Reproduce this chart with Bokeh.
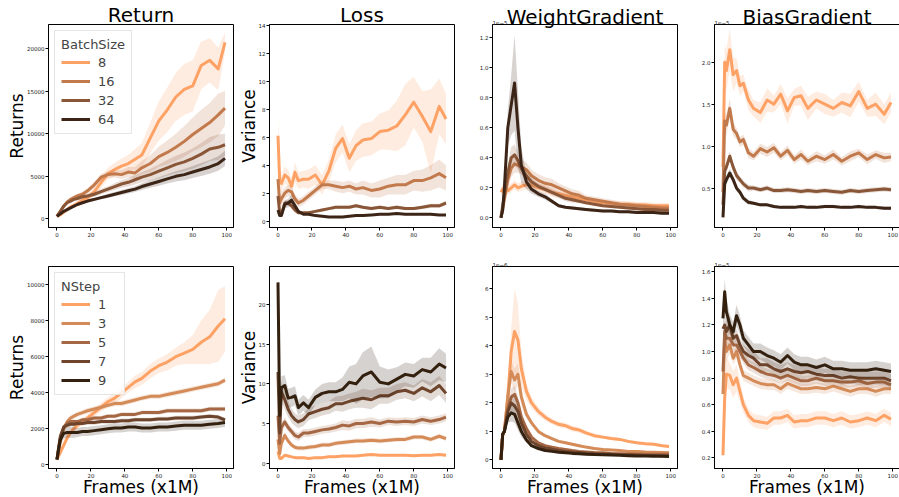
from bokeh.plotting import figure
from bokeh.layouts import column, row
from bokeh.models import Range1d, FixedTicker, PrintfTickFormatter, Title, Legend, LegendItem
from bokeh.embed import file_html
from bokeh.resources import INLINE

FONT = "DejaVu Sans"

# ---------------- data ----------------
frames = [0, 1, 2, 4, 6, 8, 10, 12, 15, 18, 22, 26, 30, 34, 38, 42, 46, 50, 55, 60, 65, 70, 75, 80, 85, 90, 95, 99]
x_ticks = [0, 20, 40, 60, 80, 100]

batch_labels = ["8", "16", "32", "64"]
nstep_labels = ["1", "3", "5", "7", "9"]
batch_colors = ["#fda165", "#c27a4c", "#8a5638", "#3c2517"]
nstep_colors = ["#fda165", "#d48b58", "#a66844", "#6e452c", "#33200f"]

# Return vs batch size
ret_b8 = [300, 400, 500, 800, 1100, 1400, 1600, 1800, 2200, 2500, 3200, 4300, 5300, 5800, 6200, 6500, 7000, 7500, 9500, 11500, 12800, 14300, 15200, 15600, 18000, 18600, 17600, 20700]
ret_b8_sd = [100, 100, 150, 200, 250, 300, 300, 350, 400, 450, 500, 600, 700, 800, 900, 1000, 1200, 1400, 1800, 2300, 2600, 2800, 3000, 3000, 2800, 2600, 2500, 1200]
ret_b16 = [300, 600, 900, 1500, 2000, 2300, 2500, 2700, 2900, 3300, 4000, 4900, 5200, 5300, 5200, 5500, 5400, 6000, 6500, 7300, 7800, 8400, 9100, 9900, 10600, 11300, 12200, 13000]
ret_b16_sd = [100, 100, 150, 200, 200, 250, 250, 250, 300, 300, 350, 400, 400, 450, 500, 600, 700, 800, 1000, 1200, 1400, 1600, 1800, 2000, 2200, 2300, 2500, 2000]
ret_b32 = [300, 600, 900, 1500, 1900, 2100, 2300, 2400, 2600, 2700, 2900, 3200, 3500, 3800, 4100, 4300, 4600, 4900, 5200, 5600, 6000, 6400, 6700, 7100, 7600, 8200, 8400, 8700]
ret_b32_sd = [100, 100, 150, 150, 150, 200, 200, 200, 250, 250, 300, 300, 350, 400, 450, 500, 550, 600, 700, 800, 900, 1000, 1100, 1200, 1300, 1400, 1500, 1300]
ret_b64 = [300, 450, 600, 900, 1100, 1300, 1500, 1700, 1900, 2100, 2300, 2500, 2700, 2900, 3100, 3300, 3500, 3800, 4100, 4400, 4700, 5000, 5200, 5500, 5800, 6100, 6500, 7100]
ret_b64_sd = [80, 80, 100, 100, 100, 120, 150, 150, 150, 200, 200, 200, 250, 250, 300, 300, 350, 400, 450, 500, 550, 600, 650, 700, 750, 800, 850, 900]

# Loss variance vs batch size
loss_b8 = [6.1, 2.9, 2.7, 3.3, 3.1, 2.5, 3.5, 2.9, 3.0, 3.0, 3.3, 2.6, 3.6, 5.2, 5.9, 4.5, 5.4, 5.8, 5.9, 6.4, 6.5, 6.8, 7.6, 8.5, 7.5, 6.4, 8.2, 7.3]
loss_b8_sd = [1.6, 0.8, 0.6, 0.6, 0.6, 0.6, 0.7, 0.6, 0.6, 0.7, 0.7, 0.7, 0.8, 1.0, 1.0, 1.0, 1.1, 1.2, 1.2, 1.3, 1.4, 1.8, 2.2, 1.8, 1.8, 3.0, 2.0, 1.8]
loss_b16 = [3.0, 1.3, 1.6, 2.0, 2.2, 2.1, 1.6, 1.3, 1.5, 1.8, 2.2, 2.6, 2.6, 2.5, 2.4, 2.5, 2.3, 2.4, 2.2, 2.3, 2.5, 2.6, 2.6, 2.9, 2.9, 3.1, 3.4, 3.1]
loss_b16_sd = [0.8, 0.5, 0.5, 0.4, 0.4, 0.4, 0.3, 0.3, 0.3, 0.3, 0.3, 0.3, 0.3, 0.4, 0.4, 0.4, 0.4, 0.5, 0.5, 0.6, 0.6, 0.7, 0.7, 0.7, 0.8, 0.9, 1.0, 0.9]
loss_b32 = [1.8, 0.6, 0.5, 1.3, 1.3, 1.1, 0.8, 0.6, 0.6, 0.6, 0.7, 0.8, 0.9, 1.0, 1.0, 1.0, 1.1, 1.0, 0.9, 1.0, 0.9, 1.0, 0.9, 0.9, 1.0, 1.1, 1.1, 1.3]
loss_b32_sd = [0.3, 0.2, 0.2, 0.2, 0.2, 0.2, 0.15, 0.1, 0.1, 0.1, 0.1, 0.1, 0.1, 0.12, 0.12, 0.12, 0.12, 0.12, 0.12, 0.12, 0.12, 0.12, 0.12, 0.12, 0.12, 0.15, 0.15, 0.15]
loss_b64 = [0.8, 0.4, 0.4, 1.2, 1.3, 1.5, 1.1, 0.7, 0.5, 0.5, 0.4, 0.35, 0.3, 0.3, 0.3, 0.35, 0.4, 0.4, 0.45, 0.5, 0.5, 0.55, 0.5, 0.5, 0.5, 0.5, 0.45, 0.45]
loss_b64_sd = [0.2, 0.1, 0.1, 0.3, 0.3, 0.4, 0.3, 0.1, 0.05, 0.05, 0.05, 0.05, 0.05, 0.05, 0.05, 0.05, 0.05, 0.05, 0.05, 0.05, 0.05, 0.05, 0.05, 0.05, 0.05, 0.05, 0.05, 0.05]

# Weight gradient variance vs batch size (x 1e-5)
wg_b8 = [0.17, 0.19, 0.2, 0.18, 0.2, 0.22, 0.2, 0.21, 0.22, 0.22, 0.2, 0.19, 0.17, 0.16, 0.15, 0.14, 0.13, 0.12, 0.11, 0.1, 0.095, 0.09, 0.09, 0.085, 0.085, 0.08, 0.08, 0.08]
wg_b8_sd = [0.03, 0.03, 0.03, 0.03, 0.03, 0.03, 0.03, 0.03, 0.03, 0.03, 0.03, 0.03, 0.03, 0.02, 0.02, 0.02, 0.02, 0.02, 0.02, 0.02, 0.02, 0.02, 0.02, 0.02, 0.02, 0.02, 0.02, 0.02]
wg_b16 = [0.0, 0.06, 0.12, 0.25, 0.33, 0.36, 0.35, 0.34, 0.32, 0.28, 0.25, 0.23, 0.22, 0.2, 0.18, 0.16, 0.15, 0.13, 0.12, 0.11, 0.1, 0.09, 0.085, 0.08, 0.075, 0.07, 0.065, 0.065]
wg_b16_sd = [0.01, 0.02, 0.03, 0.05, 0.06, 0.06, 0.05, 0.05, 0.05, 0.04, 0.04, 0.04, 0.04, 0.03, 0.03, 0.03, 0.03, 0.02, 0.02, 0.02, 0.02, 0.02, 0.02, 0.02, 0.02, 0.02, 0.02, 0.02]
wg_b32 = [0.0, 0.08, 0.15, 0.3, 0.4, 0.42, 0.38, 0.33, 0.28, 0.24, 0.21, 0.19, 0.17, 0.15, 0.13, 0.12, 0.11, 0.1, 0.09, 0.08, 0.075, 0.07, 0.065, 0.06, 0.055, 0.055, 0.05, 0.05]
wg_b32_sd = [0.01, 0.02, 0.03, 0.05, 0.07, 0.07, 0.06, 0.04, 0.03, 0.03, 0.02, 0.02, 0.02, 0.02, 0.02, 0.02, 0.01, 0.01, 0.01, 0.01, 0.01, 0.01, 0.01, 0.01, 0.01, 0.01, 0.01, 0.01]
wg_b64 = [0.0, 0.05, 0.2, 0.6, 0.75, 0.9, 0.6, 0.35, 0.24, 0.19, 0.16, 0.14, 0.11, 0.08, 0.07, 0.065, 0.06, 0.055, 0.05, 0.045, 0.045, 0.04, 0.04, 0.035, 0.035, 0.035, 0.03, 0.03]
wg_b64_sd = [0.01, 0.02, 0.05, 0.12, 0.2, 0.32, 0.25, 0.12, 0.05, 0.03, 0.02, 0.02, 0.015, 0.01, 0.01, 0.01, 0.01, 0.01, 0.01, 0.01, 0.01, 0.01, 0.01, 0.01, 0.01, 0.01, 0.01, 0.01]

# Bias gradient variance vs batch size (x 1e-5)
bg_b8 = [0.75, 2.0, 1.9, 2.15, 1.85, 1.9, 1.72, 1.75, 1.55, 1.45, 1.4, 1.55, 1.5, 1.62, 1.42, 1.58, 1.6, 1.45, 1.55, 1.5, 1.45, 1.52, 1.48, 1.65, 1.45, 1.5, 1.38, 1.52]
bg_b8_sd = [0.1, 0.2, 0.25, 0.25, 0.2, 0.15, 0.12, 0.1, 0.12, 0.1, 0.12, 0.14, 0.1, 0.12, 0.15, 0.1, 0.12, 0.14, 0.1, 0.12, 0.1, 0.12, 0.14, 0.12, 0.1, 0.14, 0.12, 0.12]
bg_b16 = [0.45, 1.3, 1.25, 1.45, 1.2, 1.15, 1.05, 1.08, 0.92, 0.88, 0.97, 0.93, 0.98, 0.88, 0.95, 0.84, 0.9, 0.82, 0.88, 0.84, 0.9, 0.82, 0.88, 0.92, 0.84, 0.9, 0.86, 0.87]
bg_b16_sd = [0.05, 0.1, 0.12, 0.12, 0.08, 0.07, 0.06, 0.06, 0.06, 0.05, 0.06, 0.06, 0.06, 0.05, 0.06, 0.05, 0.06, 0.05, 0.06, 0.05, 0.06, 0.05, 0.06, 0.05, 0.06, 0.05, 0.06, 0.05]
bg_b32 = [0.3, 0.7, 0.75, 0.88, 0.75, 0.65, 0.6, 0.55, 0.5, 0.5, 0.48, 0.5, 0.47, 0.47, 0.48, 0.47, 0.46, 0.47, 0.46, 0.47, 0.46, 0.45, 0.47, 0.46, 0.47, 0.48, 0.49, 0.48]
bg_b32_sd = [0.04, 0.06, 0.06, 0.06, 0.05, 0.05, 0.04, 0.04, 0.04, 0.03, 0.03, 0.03, 0.03, 0.03, 0.03, 0.03, 0.03, 0.03, 0.03, 0.03, 0.03, 0.03, 0.03, 0.03, 0.03, 0.03, 0.03, 0.03]
bg_b64 = [0.15, 0.55, 0.6, 0.68, 0.6, 0.5, 0.45, 0.38, 0.33, 0.32, 0.3, 0.3, 0.28, 0.27, 0.27, 0.27, 0.28, 0.27, 0.27, 0.28, 0.28, 0.27, 0.27, 0.28, 0.27, 0.27, 0.26, 0.26]
bg_b64_sd = [0.03, 0.05, 0.05, 0.05, 0.04, 0.04, 0.03, 0.03, 0.03, 0.02, 0.02, 0.02, 0.02, 0.02, 0.02, 0.02, 0.02, 0.02, 0.02, 0.02, 0.02, 0.02, 0.02, 0.02, 0.02, 0.02, 0.02, 0.02]

# Return vs n-step
ret_n1 = [300, 500, 700, 1100, 1500, 1800, 2000, 2200, 2400, 2600, 2900, 3200, 3500, 3700, 4000, 4300, 4600, 4800, 5200, 5500, 5700, 6000, 6200, 6400, 6800, 7100, 7700, 8100]
ret_n1_sd = [100, 100, 150, 150, 200, 200, 200, 200, 200, 200, 200, 250, 250, 300, 300, 300, 350, 350, 400, 400, 450, 500, 600, 800, 1200, 1500, 2000, 1800]
ret_n3 = [300, 800, 1300, 2000, 2400, 2600, 2700, 2800, 2900, 3000, 3100, 3200, 3300, 3400, 3400, 3500, 3600, 3700, 3800, 3800, 3900, 4000, 4100, 4200, 4300, 4400, 4500, 4700]
ret_n3_sd = [50, 100, 150, 150, 150, 150, 150, 150, 150, 150, 150, 150, 150, 150, 150, 150, 150, 150, 150, 150, 150, 150, 150, 150, 150, 150, 150, 150]
ret_n5 = [300, 900, 1500, 2100, 2300, 2400, 2400, 2400, 2500, 2500, 2600, 2600, 2700, 2700, 2800, 2800, 2800, 2900, 2900, 2900, 3000, 3000, 3000, 3000, 3000, 3100, 3100, 3100]
ret_n5_sd = [50, 100, 120, 120, 120, 120, 120, 120, 120, 120, 120, 120, 120, 120, 120, 120, 120, 120, 120, 120, 120, 120, 120, 120, 120, 120, 120, 120]
ret_n7 = [300, 1000, 1600, 2100, 2200, 2250, 2250, 2300, 2300, 2350, 2350, 2400, 2400, 2400, 2450, 2450, 2500, 2500, 2500, 2550, 2550, 2600, 2600, 2600, 2650, 2700, 2650, 2500]
ret_n7_sd = [50, 100, 120, 120, 120, 120, 120, 120, 120, 120, 120, 120, 120, 120, 120, 120, 120, 120, 120, 120, 120, 120, 120, 120, 120, 120, 120, 120]
ret_n9 = [300, 900, 1400, 1750, 1800, 1800, 1800, 1800, 1850, 1850, 1900, 1950, 2000, 2050, 2050, 2100, 2100, 2050, 2050, 2100, 2100, 2150, 2200, 2200, 2200, 2250, 2300, 2350]
ret_n9_sd = [50, 150, 250, 300, 300, 300, 300, 250, 250, 250, 250, 250, 250, 250, 250, 250, 250, 250, 250, 250, 250, 250, 250, 250, 250, 250, 250, 250]

# Loss variance vs n-step
loss_n1 = [1.5, 0.6, 0.6, 1.0, 0.9, 0.8, 0.7, 0.7, 0.7, 0.6, 0.7, 0.7, 0.8, 0.8, 0.9, 0.9, 0.9, 1.0, 1.1, 1.0, 1.0, 1.0, 1.0, 0.95, 1.0, 1.0, 1.1, 1.0]
loss_n1_sd = [0.3, 0.15, 0.15, 0.15, 0.15, 0.15, 0.15, 0.15, 0.15, 0.15, 0.15, 0.15, 0.15, 0.15, 0.15, 0.15, 0.15, 0.15, 0.15, 0.15, 0.15, 0.15, 0.15, 0.15, 0.15, 0.15, 0.15, 0.15]
loss_n3 = [3.0, 1.2, 2.5, 3.5, 2.8, 2.3, 2.0, 1.9, 1.9, 2.0, 2.1, 2.3, 2.3, 2.5, 2.6, 2.7, 2.8, 2.8, 2.9, 2.8, 2.9, 3.0, 3.0, 3.3, 3.3, 3.0, 3.4, 3.1]
loss_n3_sd = [0.6, 0.4, 0.4, 0.4, 0.3, 0.3, 0.3, 0.3, 0.3, 0.3, 0.3, 0.3, 0.3, 0.3, 0.3, 0.3, 0.3, 0.3, 0.3, 0.3, 0.3, 0.3, 0.3, 0.3, 0.3, 0.3, 0.3, 0.3]
loss_n5 = [6.0, 2.5, 4.5, 5.2, 4.5, 4.0, 3.5, 3.3, 3.8, 3.8, 4.0, 4.2, 4.3, 4.5, 4.8, 4.7, 5.0, 5.0, 5.2, 5.0, 5.3, 5.2, 5.3, 5.2, 5.5, 5.3, 5.5, 5.8]
loss_n5_sd = [1.0, 0.6, 0.6, 0.6, 0.5, 0.5, 0.5, 0.5, 0.5, 0.5, 0.5, 0.5, 0.5, 0.5, 0.6, 0.6, 0.6, 0.6, 0.6, 0.5, 0.5, 0.5, 0.5, 0.5, 0.5, 0.5, 0.5, 0.5]
loss_n7 = [11.5, 3.8, 9.0, 8.0, 6.8, 6.0, 5.5, 5.2, 5.5, 6.2, 6.5, 6.8, 7.0, 7.5, 7.5, 7.8, 8.0, 8.2, 8.0, 8.5, 8.5, 9.0, 9.2, 8.8, 9.5, 9.0, 9.8, 8.8]
loss_n7_sd = [1.0, 1.0, 1.3, 1.2, 1.0, 0.9, 0.8, 0.8, 0.8, 0.8, 0.8, 0.8, 0.8, 0.9, 1.0, 1.0, 1.0, 1.2, 1.2, 1.0, 1.0, 1.0, 1.0, 1.0, 1.1, 1.2, 1.2, 1.2]
loss_n9 = [22.8, 6.0, 9.5, 9.8, 8.2, 8.3, 8.5, 7.0, 7.6, 7.0, 8.3, 8.8, 9.0, 9.0, 9.3, 10.2, 10.0, 11.0, 11.5, 10.2, 10.0, 10.6, 11.2, 11.0, 11.8, 11.5, 12.5, 12.0]
loss_n9_sd = [0.8, 1.0, 1.5, 1.3, 1.2, 1.2, 1.2, 1.0, 1.0, 1.0, 1.0, 1.2, 1.2, 1.2, 1.5, 2.0, 2.5, 3.0, 3.2, 2.0, 1.8, 1.5, 1.5, 1.5, 1.5, 1.8, 2.0, 1.8]

# Weight gradient variance vs n-step (x 1e-6)
wg_n1 = [0.0, 0.9, 1.0, 2.2, 3.8, 4.5, 4.2, 3.2, 2.4, 2.0, 1.7, 1.5, 1.35, 1.25, 1.2, 1.1, 1.05, 0.95, 0.85, 0.8, 0.75, 0.72, 0.65, 0.6, 0.57, 0.55, 0.5, 0.47]
wg_n1_sd = [0.05, 0.1, 0.1, 0.4, 0.8, 1.5, 1.3, 0.6, 0.3, 0.2, 0.15, 0.12, 0.1, 0.1, 0.1, 0.1, 0.1, 0.08, 0.08, 0.06, 0.06, 0.05, 0.05, 0.05, 0.05, 0.05, 0.05, 0.05]
wg_n3 = [0.0, 0.9, 1.0, 2.2, 3.1, 2.8, 3.0, 2.2, 1.6, 1.3, 1.0, 0.85, 0.75, 0.65, 0.6, 0.55, 0.5, 0.45, 0.4, 0.37, 0.35, 0.33, 0.3, 0.3, 0.28, 0.27, 0.26, 0.25]
wg_n3_sd = [0.05, 0.1, 0.1, 0.3, 0.4, 0.4, 0.4, 0.3, 0.15, 0.1, 0.08, 0.06, 0.05, 0.05, 0.05, 0.05, 0.04, 0.04, 0.04, 0.04, 0.04, 0.04, 0.04, 0.04, 0.04, 0.04, 0.04, 0.04]
wg_n5 = [0.0, 0.9, 1.0, 1.8, 2.2, 2.3, 2.0, 1.5, 1.1, 0.8, 0.6, 0.5, 0.45, 0.4, 0.37, 0.33, 0.3, 0.28, 0.26, 0.25, 0.23, 0.22, 0.21, 0.2, 0.2, 0.2, 0.2, 0.2]
wg_n5_sd = [0.05, 0.1, 0.1, 0.2, 0.3, 0.3, 0.25, 0.2, 0.1, 0.05, 0.04, 0.03, 0.03, 0.03, 0.03, 0.03, 0.03, 0.03, 0.03, 0.03, 0.03, 0.03, 0.03, 0.03, 0.03, 0.03, 0.03, 0.03]
wg_n7 = [0.0, 0.9, 1.0, 1.7, 2.0, 1.9, 1.7, 1.3, 0.9, 0.65, 0.5, 0.42, 0.38, 0.33, 0.3, 0.28, 0.26, 0.24, 0.22, 0.21, 0.2, 0.19, 0.18, 0.17, 0.16, 0.16, 0.15, 0.15]
wg_n7_sd = [0.05, 0.1, 0.1, 0.2, 0.3, 0.3, 0.25, 0.2, 0.1, 0.05, 0.04, 0.03, 0.03, 0.03, 0.03, 0.03, 0.03, 0.03, 0.03, 0.03, 0.03, 0.03, 0.03, 0.03, 0.03, 0.03, 0.03, 0.03]
wg_n9 = [0.0, 0.9, 1.0, 1.5, 1.65, 1.6, 1.3, 1.0, 0.7, 0.5, 0.4, 0.33, 0.3, 0.27, 0.25, 0.23, 0.22, 0.2, 0.19, 0.18, 0.17, 0.16, 0.15, 0.14, 0.14, 0.13, 0.13, 0.12]
wg_n9_sd = [0.05, 0.1, 0.1, 0.2, 0.3, 0.3, 0.25, 0.2, 0.1, 0.05, 0.04, 0.03, 0.03, 0.03, 0.03, 0.03, 0.03, 0.03, 0.03, 0.03, 0.03, 0.03, 0.03, 0.03, 0.03, 0.03, 0.03, 0.03]

# Bias gradient variance vs n-step (x 1e-5)
bg_n1 = [0.22, 0.65, 0.83, 0.82, 0.75, 0.8, 0.7, 0.6, 0.52, 0.48, 0.47, 0.46, 0.5, 0.5, 0.52, 0.47, 0.48, 0.48, 0.5, 0.5, 0.48, 0.5, 0.47, 0.48, 0.5, 0.48, 0.52, 0.49]
bg_n1_sd = [0.03, 0.1, 0.12, 0.1, 0.1, 0.1, 0.08, 0.06, 0.05, 0.05, 0.05, 0.05, 0.05, 0.05, 0.05, 0.05, 0.05, 0.05, 0.05, 0.05, 0.05, 0.05, 0.05, 0.05, 0.05, 0.05, 0.05, 0.05]
bg_n3 = [0.68, 1.1, 1.0, 1.05, 0.95, 1.0, 0.9, 0.82, 0.8, 0.78, 0.76, 0.75, 0.75, 0.72, 0.76, 0.74, 0.72, 0.72, 0.73, 0.72, 0.74, 0.72, 0.7, 0.72, 0.72, 0.7, 0.72, 0.72]
bg_n3_sd = [0.05, 0.08, 0.08, 0.06, 0.05, 0.05, 0.05, 0.04, 0.04, 0.04, 0.04, 0.04, 0.04, 0.04, 0.04, 0.04, 0.04, 0.04, 0.04, 0.04, 0.04, 0.04, 0.04, 0.04, 0.04, 0.04, 0.04, 0.04]
bg_n5 = [0.85, 1.15, 1.1, 1.1, 1.05, 1.05, 1.0, 0.95, 0.9, 0.88, 0.85, 0.83, 0.82, 0.8, 0.82, 0.8, 0.78, 0.78, 0.8, 0.78, 0.78, 0.77, 0.77, 0.78, 0.76, 0.77, 0.77, 0.75]
bg_n5_sd = [0.05, 0.08, 0.08, 0.06, 0.05, 0.05, 0.05, 0.04, 0.04, 0.04, 0.04, 0.04, 0.04, 0.04, 0.04, 0.04, 0.04, 0.04, 0.04, 0.04, 0.04, 0.04, 0.04, 0.04, 0.04, 0.04, 0.04, 0.04]
bg_n7 = [1.17, 1.2, 1.15, 1.2, 1.1, 1.12, 1.05, 1.0, 0.97, 0.95, 0.9, 0.9, 0.87, 0.85, 0.87, 0.85, 0.84, 0.85, 0.83, 0.82, 0.82, 0.8, 0.81, 0.8, 0.8, 0.8, 0.8, 0.78]
bg_n7_sd = [0.05, 0.08, 0.08, 0.06, 0.05, 0.05, 0.05, 0.05, 0.05, 0.05, 0.05, 0.05, 0.05, 0.05, 0.05, 0.05, 0.05, 0.05, 0.05, 0.05, 0.05, 0.05, 0.05, 0.05, 0.05, 0.05, 0.05, 0.05]
bg_n9 = [1.25, 1.45, 1.3, 1.2, 1.15, 1.27, 1.2, 1.1, 1.05, 1.0, 1.0, 0.97, 0.95, 0.92, 0.97, 0.92, 0.9, 0.9, 0.88, 0.9, 0.87, 0.87, 0.86, 0.86, 0.86, 0.87, 0.86, 0.85]
bg_n9_sd = [0.06, 0.1, 0.1, 0.08, 0.07, 0.08, 0.07, 0.06, 0.06, 0.06, 0.06, 0.06, 0.06, 0.06, 0.06, 0.06, 0.06, 0.06, 0.06, 0.06, 0.06, 0.06, 0.06, 0.06, 0.06, 0.06, 0.06, 0.06]

# ---------------- layout constants ----------------
FW = 185
ROW1 = dict(top=24, fh=203, bottom=21)
ROW2 = dict(top=18, fh=202, bottom=29)
COLS = [(48, 2), (34, 8), (30, 8), (29, 1)]


def style_title(t, size, align):
    t.align = align
    t.text_font = FONT
    t.text_font_size = size
    t.text_font_style = "normal"
    t.text_color = "black"


def make_panel(col, rowcfg, yrange, yticks, yfmt, series, sds, colors,
               title=None, ylabel=None, xlabel=None, offset_text=None,
               legend_title=None, labels=None):
    left, right = COLS[col]
    p = figure(frame_width=FW, frame_height=rowcfg["fh"],
               min_border_left=left, min_border_right=right,
               min_border_top=rowcfg["top"], min_border_bottom=rowcfg["bottom"],
               x_range=Range1d(-5, 104), y_range=Range1d(*yrange),
               output_backend="svg", toolbar_location=None,
               background_fill_color="white", border_fill_color="white")
    p.grid.visible = False
    p.outline_line_color = "black"
    p.outline_line_width = 1
    p.outline_line_alpha = 1

    for ax in (p.xaxis, p.yaxis):
        ax.axis_line_color = "black"
        ax.major_tick_line_color = "black"
        ax.minor_tick_line_color = None
        ax.major_tick_out = 3
        ax.major_tick_in = 0
        ax.major_label_text_font = FONT
        ax.major_label_text_font_size = "5.5px"
        ax.major_label_text_color = "#222222"
        ax.major_label_standoff = 1
        ax.axis_label_text_font = FONT
        ax.axis_label_text_font_size = "17px"
        ax.axis_label_text_font_style = "normal"
        ax.axis_label_text_color = "black"
    p.xaxis.axis_label_standoff = -4
    p.yaxis.axis_label_standoff = -3

    p.xaxis.ticker = FixedTicker(ticks=x_ticks)
    p.yaxis.ticker = FixedTicker(ticks=yticks)
    p.yaxis.formatter = PrintfTickFormatter(format=yfmt)
    if ylabel:
        p.yaxis.axis_label = ylabel
    if xlabel:
        p.xaxis.axis_label = xlabel

    # titles: a Title added to "above" sits nearest the frame, p.title outside it
    if offset_text and title:
        p.title.text = title
        style_title(p.title, "20px", "center")
        p.title.standoff = -22
        off = Title(text=offset_text, standoff=0)
        style_title(off, "5.5px", "left")
        off.text_color = "#222222"
        p.add_layout(off, "above")
    elif offset_text:
        p.title.text = offset_text
        style_title(p.title, "5.5px", "left")
        p.title.text_color = "#222222"
        p.title.standoff = 0
    elif title:
        p.title.text = title
        style_title(p.title, "20px", "center")
        p.title.standoff = -5

    renderers = []
    for vals, sd, c in zip(series, sds, colors):
        lo = [v - s for v, s in zip(vals, sd)]
        hi = [v + s for v, s in zip(vals, sd)]
        p.varea(x=frames, y1=lo, y2=hi, fill_color=c, fill_alpha=0.2)
        r = p.line(frames, vals, line_color=c, line_width=3, line_join="round")
        renderers.append(r)

    if legend_title:
        items = [LegendItem(label=lab, renderers=[r]) for lab, r in zip(labels, renderers)]
        leg = Legend(items=items, title=legend_title, location="top_left")
        leg.title_text_font = FONT
        leg.title_text_font_size = "13px"
        leg.title_text_font_style = "normal"
        leg.title_standoff = 2
        leg.label_text_font = FONT
        leg.label_text_font_size = "13px"
        leg.glyph_width = 29
        leg.glyph_height = 16
        leg.label_height = 16
        leg.spacing = 3
        leg.padding = 6
        leg.margin = 6
        leg.label_standoff = 8
        leg.border_line_color = "#cccccc"
        leg.border_line_width = 1
        leg.background_fill_alpha = 0.85
        p.add_layout(leg)
    return p


p1 = make_panel(0, ROW1, (-1000, 22800), [0, 5000, 10000, 15000, 20000], "%d",
                [ret_b8, ret_b16, ret_b32, ret_b64],
                [ret_b8_sd, ret_b16_sd, ret_b32_sd, ret_b64_sd], batch_colors,
                title="Return", ylabel="Returns", legend_title="BatchSize", labels=batch_labels)
p2 = make_panel(1, ROW1, (-0.45, 14.05), [0, 2, 4, 6, 8, 10, 12, 14], "%d",
                [loss_b8, loss_b16, loss_b32, loss_b64],
                [loss_b8_sd, loss_b16_sd, loss_b32_sd, loss_b64_sd], batch_colors,
                title="Loss", ylabel="Variance")
p3 = make_panel(2, ROW1, (-0.065, 1.29), [0, 0.2, 0.4, 0.6, 0.8, 1.0, 1.2], "%.1f",
                [wg_b8, wg_b16, wg_b32, wg_b64],
                [wg_b8_sd, wg_b16_sd, wg_b32_sd, wg_b64_sd], batch_colors,
                title="WeightGradient", offset_text="1e\u22125")
p4 = make_panel(3, ROW1, (0.03, 2.45), [0.5, 1.0, 1.5, 2.0], "%.1f",
                [bg_b8, bg_b16, bg_b32, bg_b64],
                [bg_b8_sd, bg_b16_sd, bg_b32_sd, bg_b64_sd], batch_colors,
                title="BiasGradient", offset_text="1e\u22125")

p5 = make_panel(0, ROW2, (-200, 11000), [0, 2000, 4000, 6000, 8000, 10000], "%d",
                [ret_n1, ret_n3, ret_n5, ret_n7, ret_n9],
                [ret_n1_sd, ret_n3_sd, ret_n5_sd, ret_n7_sd, ret_n9_sd], nstep_colors,
                ylabel="Returns", xlabel="Frames (x1M)", legend_title="NStep", labels=nstep_labels)
p6 = make_panel(1, ROW2, (-0.67, 24.8), [0, 5, 10, 15, 20], "%d",
                [loss_n1, loss_n3, loss_n5, loss_n7, loss_n9],
                [loss_n1_sd, loss_n3_sd, loss_n5_sd, loss_n7_sd, loss_n9_sd], nstep_colors,
                ylabel="Variance", xlabel="Frames (x1M)")
p7 = make_panel(2, ROW2, (-0.3, 6.78), [0, 1, 2, 3, 4, 5, 6], "%d",
                [wg_n1, wg_n3, wg_n5, wg_n7, wg_n9],
                [wg_n1_sd, wg_n3_sd, wg_n5_sd, wg_n7_sd, wg_n9_sd], nstep_colors,
                xlabel="Frames (x1M)", offset_text="1e\u22126")
p8 = make_panel(3, ROW2, (0.12, 1.64), [0.2, 0.4, 0.6, 0.8, 1.0, 1.2, 1.4, 1.6], "%.1f",
                [bg_n1, bg_n3, bg_n5, bg_n7, bg_n9],
                [bg_n1_sd, bg_n3_sd, bg_n5_sd, bg_n7_sd, bg_n9_sd], nstep_colors,
                xlabel="Frames (x1M)", offset_text="1e\u22125")

layout = column(row(p1, p2, p3, p4), row(p5, p6, p7, p8))

open("out.html", "w").write(file_html(layout, INLINE))
